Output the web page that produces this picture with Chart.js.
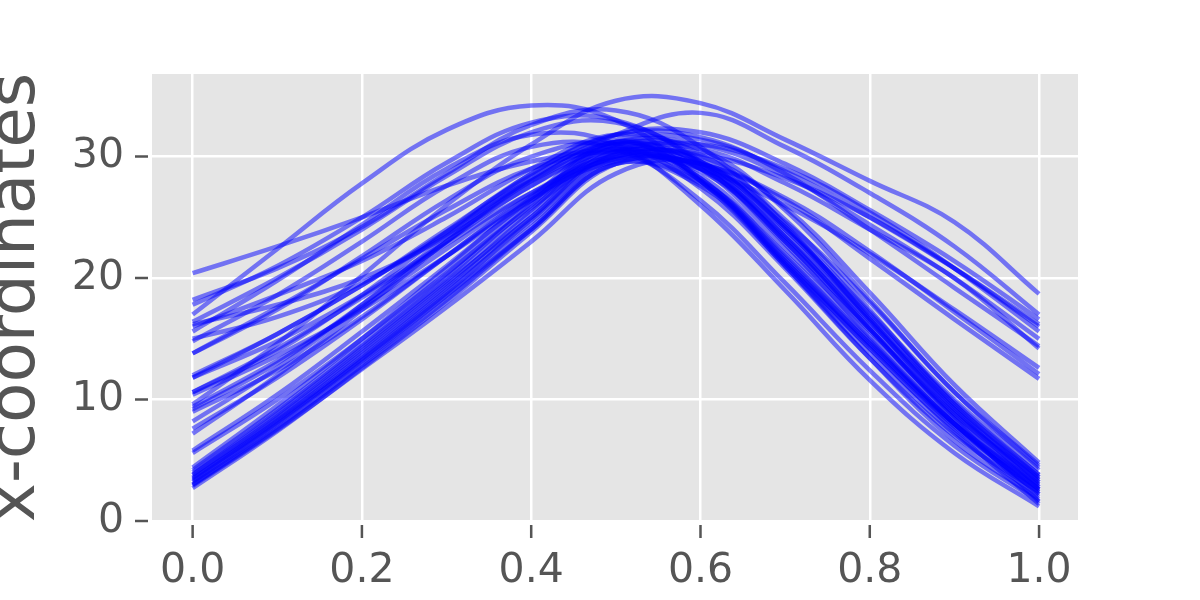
<!DOCTYPE html>
<html>
<head>
<meta charset="utf-8">
<script src="https://cdn.jsdelivr.net/npm/chart.js@4"></script>
<style>
    html, body { margin: 0; padding: 0; background: #fff; }
    #wrap { width: 1200px; height: 600px; }
</style>
</head>
<body>
<div id="wrap"><canvas id="curvesChart"></canvas></div>
<script>
// sample positions along the curve
const xs = [0, 0.1, 0.2, 0.3, 0.4, 0.5, 0.6, 0.7, 0.8, 0.9, 1.0]
const xTicks = [0, 0.2, 0.4, 0.6, 0.8, 1.0]
const yTicks = [0, 10, 20, 30]

// start low, peak near the middle, end low
const lowStartLowEnd = [
    [3.0, 7.8, 13.0, 18.5, 24.0, 29.4, 27.6, 21.4, 14.6, 8.0, 2.8],
    [3.4, 8.3, 13.6, 19.2, 25.0, 30.4, 28.0, 21.2, 14.4, 7.8, 2.4],
    [3.8, 8.8, 14.2, 19.8, 25.6, 31.0, 29.0, 22.4, 15.6, 8.8, 3.4],
    [4.2, 9.2, 14.6, 20.3, 26.2, 31.2, 28.2, 21.6, 14.6, 8.0, 3.0],
    [2.7, 7.4, 12.6, 18.0, 23.8, 29.4, 29.2, 23.4, 16.4, 9.4, 3.2],
    [3.2, 8.0, 13.3, 18.8, 24.8, 30.2, 29.6, 24.0, 17.0, 9.8, 3.8],
    [4.4, 9.5, 15.0, 20.8, 26.6, 31.2, 28.0, 21.0, 13.8, 7.2, 2.0],
    [3.6, 8.5, 13.8, 19.4, 25.4, 30.8, 29.4, 23.0, 15.8, 8.4, 1.6],
    [3.0, 7.6, 12.8, 18.2, 24.0, 29.4, 27.8, 21.4, 14.2, 7.4, 1.4],
    [4.0, 9.0, 14.4, 20.0, 26.0, 31.0, 28.2, 21.2, 14.2, 7.6, 2.6],
    [2.9, 7.5, 12.5, 17.6, 23.0, 28.6, 29.4, 24.6, 18.0, 10.6, 4.6],
    [3.5, 8.2, 13.4, 19.0, 24.6, 29.8, 28.0, 22.0, 15.0, 8.0, 2.2],
    [3.8, 8.6, 14.0, 19.6, 25.0, 30.2, 28.4, 21.8, 14.8, 8.0, 2.2],
    [3.3, 8.1, 13.2, 18.6, 24.2, 29.8, 29.0, 23.0, 15.8, 8.6, 2.6]
]

// start high, peak early, end low
const highStartLowEnd = [
    [17.0, 22.4, 27.8, 32.2, 34.2, 33.0, 28.0, 21.0, 13.4, 6.6, 1.8],
    [17.8, 21.0, 25.0, 29.5, 32.8, 33.0, 29.4, 22.8, 15.2, 8.0, 2.6],
    [15.6, 19.8, 24.4, 29.0, 31.8, 31.0, 26.0, 19.0, 11.6, 5.6, 1.2],
    [16.4, 20.0, 24.0, 28.4, 32.0, 32.8, 29.6, 23.4, 15.8, 8.4, 3.0],
    [14.8, 18.6, 23.0, 27.6, 30.8, 30.6, 26.4, 19.6, 12.4, 6.2, 1.6],
    [18.2, 20.8, 24.2, 28.6, 32.6, 33.8, 30.8, 24.4, 16.6, 9.0, 3.4],
    [13.8, 17.4, 21.8, 26.4, 30.0, 31.0, 27.4, 20.8, 13.4, 7.0, 2.4],
    [16.0, 18.6, 21.4, 25.0, 29.0, 31.8, 30.2, 24.8, 17.4, 9.6, 3.8]
]

// start in the middle band, end low
const midStartLowEnd = [
    [11.8, 15.4, 19.4, 23.8, 28.0, 30.6, 29.0, 23.6, 16.4, 9.2, 3.6],
    [9.4, 13.2, 17.6, 22.4, 27.0, 30.0, 28.8, 23.2, 16.0, 8.8, 3.2],
    [7.6, 11.8, 16.6, 21.8, 26.8, 30.4, 29.6, 24.0, 16.6, 9.2, 2.8],
    [5.6, 10.0, 15.0, 20.4, 25.8, 30.0, 29.4, 24.2, 17.2, 10.0, 4.2],
    [10.4, 13.6, 17.4, 21.8, 26.4, 30.0, 30.0, 25.8, 18.8, 11.2, 4.8],
    [16.2, 17.8, 20.0, 23.4, 27.6, 31.0, 30.6, 25.6, 18.2, 10.6, 4.4],
    [15.0, 16.8, 19.6, 23.6, 28.0, 31.2, 29.8, 24.2, 16.8, 9.6, 3.6]
]

// peak late, end high
const lateHighEnd = [
    [9.6, 14.6, 20.2, 26.0, 31.0, 34.6, 34.4, 31.4, 28.0, 24.6, 18.7],
    [7.2, 12.0, 17.4, 23.0, 28.2, 31.8, 33.6, 30.8, 27.0, 22.6, 17.0],
    [10.6, 14.0, 18.6, 23.8, 28.6, 31.8, 32.0, 29.4, 25.6, 21.4, 16.6],
    [12.0, 15.4, 19.4, 24.0, 28.4, 31.4, 31.4, 28.8, 25.0, 20.8, 16.2],
    [5.8, 10.4, 15.6, 21.0, 26.4, 30.4, 31.0, 29.0, 25.4, 20.8, 15.6],
    [9.2, 13.0, 17.8, 23.0, 28.0, 31.2, 31.0, 28.4, 24.4, 20.0, 15.0],
    [20.4, 22.6, 25.0, 27.6, 29.6, 30.6, 30.2, 28.2, 25.0, 20.8, 16.0],
    [8.2, 12.6, 17.8, 23.4, 28.6, 31.8, 31.6, 28.6, 24.0, 19.2, 14.4],
    [11.8, 14.8, 18.6, 23.0, 27.6, 30.6, 30.6, 27.8, 24.0, 20.0, 14.2],
    [13.8, 17.6, 21.6, 25.6, 29.0, 30.4, 29.0, 26.0, 22.0, 17.4, 12.6],
    [9.0, 12.4, 16.8, 21.8, 26.6, 29.6, 29.4, 26.6, 22.2, 17.2, 12.1],
    [10.6, 14.2, 18.4, 22.8, 27.0, 29.8, 29.4, 26.4, 21.6, 16.6, 11.7]
]

const allCurves = [...lowStartLowEnd, ...highStartLowEnd, ...midStartLowEnd, ...lateHighEnd]

const textGrey = '#555555'

const panel = {
    id: 'panel',
    beforeDraw(chart) {
        const { ctx, chartArea: a } = chart
        ctx.save()
        ctx.fillStyle = '#E5E5E5'
        ctx.fillRect(a.left, a.top, a.right - a.left, a.bottom - a.top)
        ctx.restore()
    },
    afterDraw(chart) {
        // outward tick marks, a little detached from the panel like the ggplot style
        const { ctx, chartArea: a, scales } = chart
        ctx.save()
        ctx.strokeStyle = textGrey
        ctx.lineWidth = 2.5
        ctx.beginPath()
        for (const v of yTicks) {
            const y = scales.y.getPixelForValue(v)
            ctx.moveTo(a.left - 17, y)
            ctx.lineTo(a.left - 4, y)
        }
        for (const v of xTicks) {
            const x = scales.x.getPixelForValue(v)
            ctx.moveTo(x, a.bottom + 4)
            ctx.lineTo(x, a.bottom + 17)
        }
        ctx.stroke()
        ctx.restore()
    }
}

new Chart(document.getElementById('curvesChart'), {
    type: 'line',
    data: {
        datasets: allCurves.map(c => ({
            data: xs.map((x, i) => ({ x: x, y: c[i] })),
            borderColor: 'rgba(0, 0, 255, 0.5)',
            borderWidth: 4.5,
            pointRadius: 0,
            fill: false,
            tension: 0.4
        }))
    },
    options: {
        responsive: true,
        maintainAspectRatio: false,
        animation: false,
        layout: { padding: { top: 74, right: 122, left: 0, bottom: 0 } },
        plugins: {
            legend: { display: false },
            tooltip: { enabled: false }
        },
        scales: {
            x: {
                type: 'linear',
                min: -0.048,
                max: 1.046,
                afterBuildTicks: s => { s.ticks = xTicks.map(v => ({ value: v })) },
                afterFit: s => { s.height = 79 },
                grid: { color: '#ffffff', lineWidth: 2.5, drawTicks: false },
                border: { display: false },
                ticks: {
                    padding: 26,
                    color: textGrey,
                    font: { family: 'DejaVu Sans', size: 41 },
                    callback: v => v.toFixed(1)
                }
            },
            y: {
                type: 'linear',
                min: 0,
                max: 36.8,
                afterBuildTicks: s => { s.ticks = yTicks.map(v => ({ value: v })) },
                afterFit: s => { s.width = 152 },
                grid: { color: '#ffffff', lineWidth: 2.5, drawTicks: false },
                border: { display: false },
                ticks: {
                    padding: 28,
                    color: textGrey,
                    font: { family: 'DejaVu Sans', size: 41 },
                    callback: v => String(v)
                },
                title: {
                    display: true,
                    text: 'x-coordinates',
                    color: textGrey,
                    padding: 0,
                    font: { family: 'DejaVu Sans', size: 66, lineHeight: 0.52 }
                }
            }
        }
    },
    plugins: [panel]
})
</script>
</body>
</html>
